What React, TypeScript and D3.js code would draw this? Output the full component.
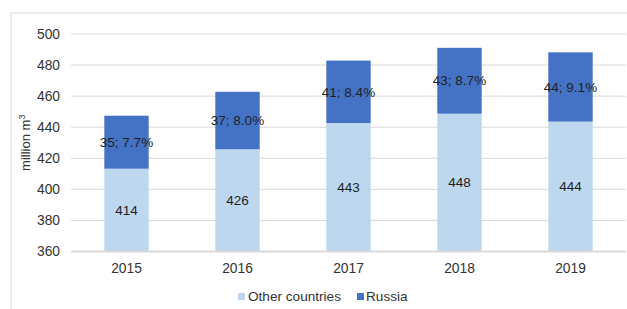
import React from "react";
import * as d3 from "d3";

const years = ["2015", "2016", "2017", "2018", "2019"];
const otherCountries = [413.3, 425.8, 442.7, 448.7, 443.6];
const russia = [34.1, 37.0, 40.2, 42.4, 44.6];
const otherLabels = ["414", "426", "443", "448", "444"];
const russiaLabels = ["35; 7.7%", "37; 8.0%", "41; 8.4%", "43; 8.7%", "44; 9.1%"];
const yTicks = [360, 380, 400, 420, 440, 460, 480, 500];
const seriesNames = ["Other countries", "Russia"];
const colors = ["#BDD7EE", "#4472C4"];

const W = 627;
const H = 309;
const FONT = "'Liberation Sans', Arial, sans-serif";

export default function App() {
  const x = d3
    .scaleBand<string>()
    .domain(years)
    .range([71, 626])
    .paddingInner(0.6)
    .paddingOuter(0.3);
  const y = d3.scaleLinear().domain([360, 500]).range([251.5, 34]);

  const rows = years.map((yr, i) => ({ year: yr, other: otherCountries[i], russia: russia[i] }));
  const stacked = d3.stack<any>().keys(["other", "russia"])(rows);
  const labelSets = [otherLabels, russiaLabels];

  return (
    <svg
      width={W}
      height={H}
      style={{ position: "absolute", left: 0, top: 0, background: "#fff" }}
      fontFamily={FONT}
    >
      <rect x={0} y={0} width={W} height={H} fill="#fff" />
      {/* frame */}
      <line x1={11} x2={11} y1={13} y2={H} stroke="#d9d9d9" strokeWidth={1} />
      <line x1={11} x2={W} y1={13} y2={13} stroke="#d9d9d9" strokeWidth={1} />

      {/* gridlines */}
      {yTicks.slice(1).map((t) => (
        <line key={t} x1={71} x2={626} y1={y(t)} y2={y(t)} stroke="#d9d9d9" strokeWidth={1} />
      ))}
      {yTicks.map((t) => (
        <text
          key={"l" + t}
          x={60}
          y={y(t)}
          dy="0.35em"
          textAnchor="end"
          fontSize={13.8}
          fill="#333"
        >
          {t}
        </text>
      ))}

      {/* bars */}
      {stacked.map((s: any, si: number) => (
        <g key={si}>
          {s.map((d: any, i: number) => {
            const y0 = y(Math.max(d[0], 360));
            const y1 = y(d[1]);
            return (
              <rect
                key={i}
                x={x(d.data.year)}
                width={x.bandwidth()}
                y={y1}
                height={y0 - y1}
                fill={colors[si]}
              />
            );
          })}
        </g>
      ))}

      {/* axis line */}
      <line x1={71} x2={626} y1={y(360)} y2={y(360)} stroke="#d9d9d9" strokeWidth={2} />

      {/* data labels */}
      {stacked.map((s: any, si: number) => (
        <g key={"dl" + si}>
          {s.map((d: any, i: number) => {
            const y0 = y(Math.max(d[0], 360));
            const y1 = y(d[1]);
            return (
              <text
                key={i}
                x={(x(d.data.year) as number) + x.bandwidth() / 2}
                y={(y0 + y1) / 2}
                dy="0.35em"
                textAnchor="middle"
                fontSize={13.5}
                fill="#1f1f1f"
              >
                {labelSets[si][i]}
              </text>
            );
          })}
        </g>
      ))}

      {/* x labels */}
      {years.map((yr) => (
        <text
          key={yr}
          x={(x(yr) as number) + x.bandwidth() / 2}
          y={273}
          textAnchor="middle"
          fontSize={13.8}
          fill="#333"
        >
          {yr}
        </text>
      ))}

      {/* y title */}
      <text
        transform={`translate(30,${(y(360) + y(500)) / 2}) rotate(-90)`}
        textAnchor="middle"
        fontSize={13}
        fill="#333"
      >
        million m<tspan dy={-5} fontSize={9}>3</tspan>
      </text>

      {/* legend */}
      <g>
        <rect x={238} y={293} width={7} height={7} fill={colors[0]} />
        <text x={248} y={301} fontSize={13.6} fill="#333">
          {seriesNames[0]}
        </text>
        <rect x={357} y={293} width={7} height={7} fill={colors[1]} />
        <text x={366} y={301} fontSize={13.6} fill="#333">
          {seriesNames[1]}
        </text>
      </g>
    </svg>
  );
}
